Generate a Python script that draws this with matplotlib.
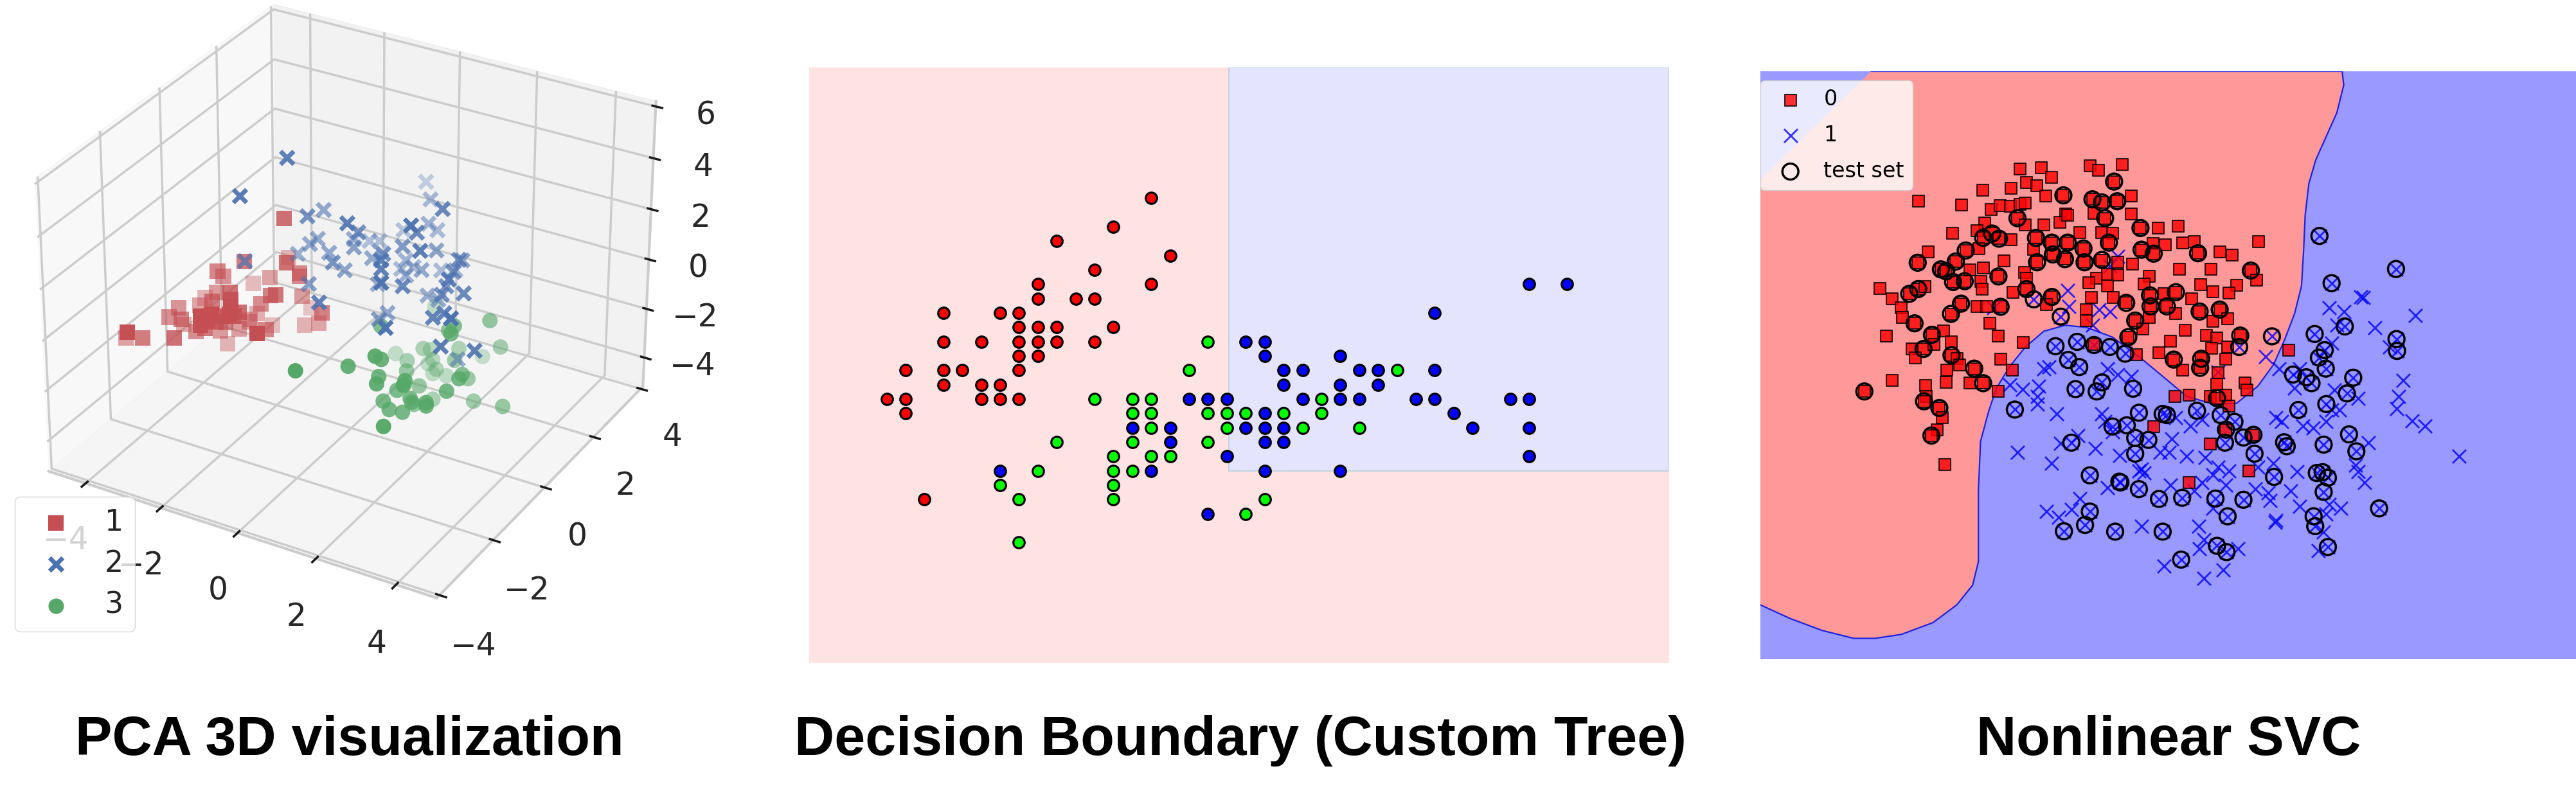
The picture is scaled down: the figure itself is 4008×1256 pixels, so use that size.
import numpy as np
import matplotlib
matplotlib.use('Agg')
import matplotlib.pyplot as plt
from matplotlib.patches import Rectangle

W, H = 4008, 1256
plt.rcParams['font.family'] = ['DejaVu Sans']

# panel 1: PCA components
class1 = [(-1.29,-0.62,3.19),(-1.94,-1.17,1.73),(-2.49,-1.37,1.30),(-2.47,-1.20,0.94),(-1.01,-0.93,1.87),(-1.67,0.04,0.90),(-1.72,-0.57,0.64),(-0.94,-0.57,1.15),(-0.91,-0.60,1.08),(-2.25,-0.45,0.08),(-1.07,-1.24,0.87),(-1.29,-1.13,0.63),(-0.96,-0.46,0.14),(-2.60,-1.28,0.32),(-1.94,-1.67,0.97),(-1.74,-1.91,1.03),(-3.04,-1.11,-0.24),(-2.94,-1.43,-0.20),(-3.18,-1.84,-0.01),(-1.54,-1.14,0.22),(-1.68,-2.00,0.86),(-1.61,-1.81,0.49),(-1.07,0.03,-0.83),(-0.18,-0.81,0.14),(-3.28,-2.05,-0.23),(-2.89,-2.12,-0.08),(-2.02,-2.58,0.87),(-1.83,-2.45,0.91),(-1.78,-2.21,0.62),(-1.63,-2.10,0.67),(-1.87,-1.08,-0.60),(-1.92,-0.77,-0.68),(-2.08,-2.51,0.44),(-1.99,-2.39,0.53),(-3.21,-1.64,-0.89),(-0.93,-0.42,-1.03),(-0.55,-0.43,-0.77),(-1.67,-0.57,-1.22),(-1.87,-1.12,-0.67),(-2.65,-1.94,-0.62),(-2.24,-2.16,-0.10),(-2.33,-1.51,-0.85),(-2.00,-1.31,-0.84),(-1.23,-1.39,-0.42),(-0.83,-2.22,0.39),(-2.74,-2.58,-0.30),(-3.37,-3.32,0.34),(-4.18,-2.38,-1.15),(-3.46,-2.72,-0.49),(-2.36,-1.25,-1.63),(-2.04,-1.72,-0.21),(-1.95,-2.15,0.27),(-1.53,-2.08,0.61),(-2.34,-1.78,0.56)]
class2 = [(-1.29,-0.49,5.39),(-1.91,-1.31,4.39),(0.48,2.11,2.95),(0.96,1.57,2.93),(1.88,0.65,3.75),(-0.83,-0.42,3.28),(-0.84,0.18,2.99),(0.23,-0.47,3.50),(0.25,-0.10,2.83),(1.55,-0.04,3.59),(1.47,0.30,2.98),(1.12,1.26,2.32),(1.22,1.46,1.93),(0.45,1.30,1.75),(-0.16,0.32,2.02),(-0.84,-0.04,2.06),(-0.94,-0.18,1.94),(0.04,0.04,2.03),(-0.10,0.82,1.52),(0.09,0.92,1.51),(-1.22,-0.24,1.49),(-0.51,-0.09,1.70),(-0.10,-0.53,1.90),(-0.07,-0.14,1.25),(0.89,-0.10,2.27),(0.34,0.28,1.52),(1.03,-0.38,2.34),(1.10,-0.48,2.12),(1.07,0.36,2.22),(1.80,-0.06,2.74),(1.61,0.84,1.86),(0.87,0.78,1.21),(0.73,0.81,0.78),(1.37,0.64,1.17),(1.50,1.20,0.70),(2.35,0.59,2.04),(2.18,0.98,1.59),(2.22,0.57,1.53),(2.44,0.07,1.79),(2.21,0.33,1.19),(1.34,-0.82,2.01),(0.54,0.21,0.65),(1.52,-0.29,1.46),(-0.63,-0.66,0.95),(2.71,0.24,1.21),(1.57,0.58,0.31),(2.19,0.19,0.98),(1.81,0.64,0.19),(0.10,-1.31,1.15),(0.96,-0.03,-0.08),(2.51,-0.19,0.75),(2.33,-0.35,0.65),(0.97,-0.37,-0.00),(2.91,-0.54,1.06),(1.66,-1.12,0.68),(2.71,-0.61,-0.06),(3.37,-0.32,-0.20),(2.54,0.31,-1.53),(-1.88,-1.22,1.81),(1.89,1.16,0.91),(0.95,0.96,0.82),(1.00,0.60,0.83)]
class3 = [(1.40,1.13,-0.71),(3.03,0.79,-0.23),(1.15,-0.55,-0.02),(2.52,0.19,-0.10),(2.33,0.26,-0.43),(2.64,-0.12,-0.06),(3.21,0.95,-1.35),(1.64,0.33,-1.53),(1.67,0.57,-1.79),(2.32,0.69,-1.57),(0.92,0.35,-2.08),(1.44,0.02,-1.81),(1.79,0.48,-2.04),(1.62,0.56,-2.37),(2.45,0.33,-1.63),(2.60,1.20,-2.25),(1.53,-1.31,-0.30),(1.55,-1.11,-0.61),(0.99,-1.52,-0.74),(0.18,-2.27,-0.56),(1.63,-0.28,-1.84),(1.94,0.40,-2.29),(1.79,0.49,-2.62),(2.07,0.60,-2.69),(1.52,-1.16,-1.25),(2.16,-1.12,-1.16),(1.66,-1.44,-1.20),(2.29,-1.37,-1.03),(2.94,-0.12,-1.53),(2.85,0.25,-2.10),(3.03,-0.38,-1.40),(1.99,-0.33,-2.22),(1.85,-0.96,-1.84),(2.90,-0.65,-1.69),(1.68,-1.22,-2.09),(2.16,-0.92,-2.05),(2.22,-0.95,-2.15),(2.04,-0.60,-2.67),(2.61,-0.99,-1.94),(2.12,0.01,-3.03),(2.64,-1.03,-2.02),(3.02,0.22,-2.89),(3.73,0.27,-2.82),(1.86,-1.26,-2.30),(2.13,-1.16,-2.38),(2.13,-1.86,-2.24)]
pca_xticks = [-4,-2,0,2,4]
pca_yticks = [-4,-2,0,2,4]
pca_zticks = [-4,-2,0,2,4,6]

# panel 2: sepal length / sepal width
setosa = [(5.7,4.4),(5.5,4.2),(5.2,4.1),(5.8,4.0),(5.4,3.9),(5.1,3.8),(5.7,3.8),(5.1,3.7),(5.3,3.7),(5.4,3.7),(4.6,3.6),(4.9,3.6),(5.0,3.6),(5.0,3.5),(5.1,3.5),(5.2,3.5),(5.5,3.5),(4.6,3.4),(4.8,3.4),(5.0,3.4),(5.1,3.4),(5.2,3.4),(5.4,3.4),(5.0,3.3),(5.1,3.3),(4.4,3.2),(4.6,3.2),(4.7,3.2),(5.0,3.2),(4.6,3.1),(4.8,3.1),(4.9,3.1),(4.3,3.0),(4.4,3.0),(4.8,3.0),(4.9,3.0),(5.0,3.0),(4.4,2.9),(4.5,2.3)]
versicolor = [(6.0,3.4),(5.9,3.2),(7.0,3.2),(5.4,3.0),(5.6,3.0),(5.7,3.0),(6.6,3.0),(5.6,2.9),(5.7,2.9),(6.0,2.9),(6.1,2.9),(6.2,2.9),(6.4,2.9),(6.6,2.9),(5.7,2.8),(6.1,2.8),(6.5,2.8),(6.8,2.8),(5.2,2.7),(5.6,2.7),(6.0,2.7),(5.5,2.6),(5.7,2.6),(5.8,2.6),(5.1,2.5),(5.5,2.5),(5.6,2.5),(4.9,2.4),(5.5,2.4),(5.0,2.3),(5.5,2.3),(6.3,2.3),(6.2,2.2),(5.0,2.0)]
virginica = [(7.7,3.8),(7.9,3.8),(7.2,3.6),(6.2,3.4),(6.3,3.4),(6.3,3.3),(6.7,3.3),(6.4,3.2),(6.5,3.2),(6.8,3.2),(6.9,3.2),(7.2,3.2),(6.4,3.1),(6.7,3.1),(6.9,3.1),(5.9,3.0),(6.0,3.0),(6.1,3.0),(6.5,3.0),(6.7,3.0),(6.8,3.0),(7.1,3.0),(7.2,3.0),(7.6,3.0),(7.7,3.0),(6.3,2.9),(7.3,2.9),(5.6,2.8),(5.8,2.8),(6.2,2.8),(6.3,2.8),(6.4,2.8),(7.4,2.8),(7.7,2.8),(5.8,2.7),(6.3,2.7),(6.4,2.7),(6.1,2.6),(7.7,2.6),(4.9,2.5),(5.7,2.5),(6.3,2.5),(6.7,2.5),(6.0,2.2)]
tree_x_split = 6.11
tree_y_split = 2.5

# panel 3
svc_squares = [(515,283),(555,279),(575,305),(648,275),(663,287),(709,272),(693,315),(498,332),(527,318),(547,325),(444,337),(323,364),(404,375),(563,352),(597,350),(726,352),(652,360),(670,368),(699,365),(460,385),(477,376),(497,378),(515,372),(525,370),(601,398),(655,395),(726,398),(510,408),(676,408),(448,420),(525,425),(560,425),(590,418),(605,400),(743,433),(777,433),(814,429),(387,447),(433,440),(462,447),(475,460),(445,458),(498,463),(545,458),(628,444),(670,444),(690,447),(575,470),(605,470),(683,470),(767,472),(790,475),(845,467),(823,471),(967,467),(341,493),(437,485),(412,490),(541,487),(635,485),(745,488),(768,498),(852,497),(893,493),(917,501),(321,521),(393,518),(485,517),(547,520),(577,500),(600,512),(637,520),(670,514),(728,525),(700,520),(817,537),(877,537),(952,541),(963,565),(445,535),(420,540),(365,538),(375,543),(388,570),(410,568),(441,568),(474,556),(523,545),(527,560),(660,560),(680,550),(700,552),(760,555),(925,578),(250,586),(305,600),(322,588),(335,582),(443,588),(501,597),(527,588),(645,572),(680,580),(750,575),(857,577),(880,594),(910,598),(810,596),(761,604),(787,600),(273,612),(575,608),(650,610),(692,610),(716,623),(840,612),(403,625),(433,633),(452,632),(478,633),(565,628),(290,635),(292,660),(384,651),(640,640),(762,632),(793,632),(855,645),(893,640),(810,650),(880,670),(908,663),(315,675),(458,674),(640,668),(733,668),(760,660),(747,690),(828,692),(370,695),(348,704),(262,708),(473,708),(868,705),(888,712),(932,706),(720,710),(800,720),(521,723),(385,722),(310,740),(332,740),(352,728),(655,728),(878,738),(908,735),(778,750),(735,755),(385,756),(316,763),(395,765),(478,766),(806,767),(858,765),(905,766),(1024,743),(400,780),(856,788),(376,793),(428,790),(500,793),(823,793),(890,800),(272,820),(375,825),(336,833),(420,827),(445,827),(888,830),(941,826),(945,845),(474,847),(220,848),(808,860),(835,857),(337,860),(333,873),(875,860),(888,865),(905,857),(910,885),(362,890),(367,915),(768,938),(905,945),(957,958),(358,945),(347,960),(875,982),(373,1034),(948,1050),(835,1080)]
svc_test_on_red = [(693,315),(597,350),(652,360),(670,368),(699,365),(510,408),(676,408),(743,433),(462,447),(475,460),(445,458),(545,458),(575,470),(605,470),(683,470),(412,490),(635,485),(745,488),(768,498),(852,497),(321,521),(393,518),(547,520),(577,500),(600,512),(637,520),(670,514),(952,541),(365,538),(375,543),(388,570),(410,568),(474,556),(305,600),(322,588),(527,588),(810,596),(761,604),(575,608),(716,623),(403,625),(478,633),(384,651),(762,632),(793,632),(855,645),(893,640),(315,675),(733,668),(348,704),(932,706),(720,710),(332,740),(385,756),(806,767),(858,765),(856,788),(428,790),(445,827),(220,848),(333,873),(888,865),(362,890),(905,945),(957,958),(347,960)]
svc_test_on_blue = [(1082,453),(1227,537),(1105,573),(592,658),(541,614),(992,708),(1130,683),(1073,702),(1228,715),(1229,745),(1092,743),(1081,762),(1094,790),(582,733),(623,722),(655,730),(685,735),(714,752),(606,768),(627,786),(930,735),(1032,805),(1057,812),(1067,827),(1146,813),(1134,853),(620,842),(670,825),(660,848),(729,841),(1095,880),(1042,895),(505,894),(740,902),(785,905),(793,908),(850,897),(895,908),(921,925),(690,937),(717,934),(733,966),(758,971),(612,978),(938,965),(903,978),(1138,957),(1015,977),(1020,987),(1090,983),(1152,1000),(733,1006),(959,1006),(647,1061),(703,1077),(705,1079),(996,1065),(1077,1055),(1088,1053),(1098,1067),(740,1096),(1090,1103),(778,1121),(822,1118),(885,1120),(938,1123),(1195,1145),(908,1165),(647,1153),(1071,1165),(1074,1190),(638,1187),(598,1203),(695,1204),(785,1204),(1098,1243),(888,1240),(906,1256),(820,1275)]
svc_crosses = [(700,505),(685,530),(605,592),(607,632),(465,635),(665,640),(685,645),(652,680),(1160,607),(1165,610),(1100,635),(1128,645),(1264,655),(1187,686),(1115,680),(1105,725),(1215,735),(980,760),(1005,790),(1045,790),(560,790),(570,785),(680,790),(700,805),(725,810),(890,798),(495,832),(520,842),(550,835),(548,860),(548,880),(1240,820),(1232,860),(1228,892),(1110,845),(1155,865),(1035,840),(1120,895),(584,905),(670,905),(675,925),(1258,923),(1282,935),(810,915),(838,935),(860,920),(1000,915),(1010,925),(1050,935),(1070,940),(1095,925),(1105,895),(625,960),(592,980),(657,993),(690,950),(802,968),(1175,978),(510,1003),(703,1010),(780,1003),(797,1003),(830,1012),(865,1015),(575,1030),(1347,1012),(745,1045),(740,1050),(750,1055),(890,1040),(910,1050),(880,1060),(995,1030),(965,1040),(1040,1052),(1150,1035),(1155,1052),(1167,1080),(800,1085),(680,1092),(860,1080),(905,1085),(960,1095),(1028,1100),(985,1105),(988,1125),(845,1100),(628,1120),(1045,1140),(1100,1135),(1122,1145),(1095,1160),(565,1152),(612,1148),(588,1168),(880,1145),(998,1180),(745,1190),(853,1190),(863,1225),(855,1247),(927,1248),(1090,1205),(1080,1252),(788,1292),(900,1302),(863,1322),(1000,1175)]
svc_region = [(233,35),(1125,35),(1128,70),(1115,140),(1095,200),(1075,260),(1062,320),(1055,400),(1052,490),(1048,580),(1035,650),(1015,720),(995,780),(965,835),(925,878),(880,880),(830,860),(790,815),(745,765),(690,710),(640,685),(600,680),(560,695),(525,735),(495,785),(470,840),(455,900),(440,975),(436,1100),(436,1280),(425,1340),(395,1390),(350,1435),(290,1465),(240,1475),(200,1475),(140,1455),(80,1425),(23,1390),(23,310)]

titles = ['PCA 3D visualization', 'Decision Boundary (Custom Tree)', 'Nonlinear SVC']

def fx(p): return p / W
def fy(p): return 1 - p / H

fig = plt.figure(figsize=(W/100, H/100), dpi=100, facecolor='white')

# panel 1
S = 1075
cx, cy = 532, 461
ax = fig.add_axes([fx(cx-S/2), fy(cy+S/2), S/W, S/H], projection='3d')
ax.patch.set_alpha(0)
XL, YL, ZL = (-5.0, 5.0), (-4.1, 4.1), (-5.2, 6.2)
ax.set_xticks(pca_xticks); ax.set_yticks(pca_yticks); ax.set_zticks(pca_zticks)
for a in (ax.xaxis, ax.yaxis, ax.zaxis):
    a._axinfo['grid'].update(color='0.8', linewidth=2.5)
    a.line.set_color('0.8'); a.line.set_linewidth(3)
    a._axinfo['tick']['linewidth'] = {True: 2.5, False: 1}
ax.tick_params(labelsize=35, labelcolor='0.15', color='0.1', pad=26)
R, B, G = np.array(class1), np.array(class2), np.array(class3)
ax.scatter(R[:,0], R[:,1], R[:,2], c='#c44e52', marker='s', s=300, label='1', linewidths=0)
ax.scatter(B[:,0], B[:,1], B[:,2], c='#4c72b0', marker='x', s=220, label='2', linewidths=5)
ax.scatter(G[:,0], G[:,1], G[:,2], c='#55a868', marker='o', s=300, label='3', linewidths=0)
ax.set_xlim(*XL); ax.set_ylim(*YL); ax.set_zlim(*ZL)
ax.legend(loc='lower left', bbox_to_anchor=(fx(23), fy(983)), bbox_transform=fig.transFigure, borderaxespad=0,
          fontsize=33, labelcolor='0.15', edgecolor='0.8', framealpha=0.8, handletextpad=0.65, labelspacing=0.42)

# panel 2
ax2 = fig.add_axes([fx(1259), fy(1032), (2597-1259)/W, (1032-105)/H])
ax2.set_facecolor('#FFE2E2')
ax2.set_xlim(3.89, 8.44); ax2.set_ylim(1.16, 5.31)
ax2.add_patch(Rectangle((tree_x_split, tree_y_split), 8.44-tree_x_split, 5.31-tree_y_split,
                        facecolor='#E4E4FF', edgecolor='#C4D4E0', linewidth=1.5))
for data, col in ((setosa,'#FF0000'), (versicolor,'#00FF00'), (virginica,'#0000FF')):
    d = np.array(data)
    ax2.scatter(d[:,0], d[:,1], c=col, s=160, edgecolors='black', linewidths=2.3, zorder=3)
ax2.set_xticks([]); ax2.set_yticks([])
for s in ax2.spines.values(): s.set_visible(False)

# panel 3
ax3 = fig.add_axes([fx(2739), fy(1026), (W-2739)/W, (1026-111)/H])
ax3.set_facecolor('#9999FF')
ax3.set_xlim(23, 1568); ax3.set_ylim(1528, 35)
reg = np.array(svc_region)
ax3.fill(reg[:,0], reg[:,1], facecolor='#FF9999', edgecolor='none')
ax3.plot(reg[:-1,0], reg[:-1,1], color='#2020E0', lw=1.6)
sq = np.array(svc_squares); cr = np.array(svc_crosses + svc_test_on_blue)
ax3.scatter(cr[:,0], cr[:,1], c='blue', marker='x', s=230, linewidths=2, alpha=0.8, label='1', zorder=3)
ax3.scatter(sq[:,0], sq[:,1], c='red', marker='s', s=175, edgecolors='black', linewidths=1.5, alpha=0.8, label='0', zorder=3)
te = np.array(svc_test_on_red + svc_test_on_blue)
ax3.scatter(te[:,0], te[:,1], facecolors='none', edgecolors='black', marker='o', s=320, linewidths=2.5, label='test set', zorder=4)
h, l = ax3.get_legend_handles_labels()
order = [1, 0, 2]
ax3.legend([h[i] for i in order], [l[i] for i in order], loc='upper left', bbox_to_anchor=(0, 1-(58-35)/1493), borderaxespad=0,
           fontsize=24, framealpha=0.8, edgecolor='0.8', handletextpad=0.55, labelspacing=0.68)
ax3.set_xticks([]); ax3.set_yticks([])
for s in ax3.spines.values(): s.set_visible(False)

T = dict(fontsize=62, fontweight='bold', family='Liberation Sans', ha='center', va='center')
fig.text(fx(544), fy(1153), titles[0], **T)
fig.text(fx(1930), fy(1153), titles[1], **T)
fig.text(fx(3374), fy(1153), titles[2], **T)
fig.savefig('out.png', dpi=100)
